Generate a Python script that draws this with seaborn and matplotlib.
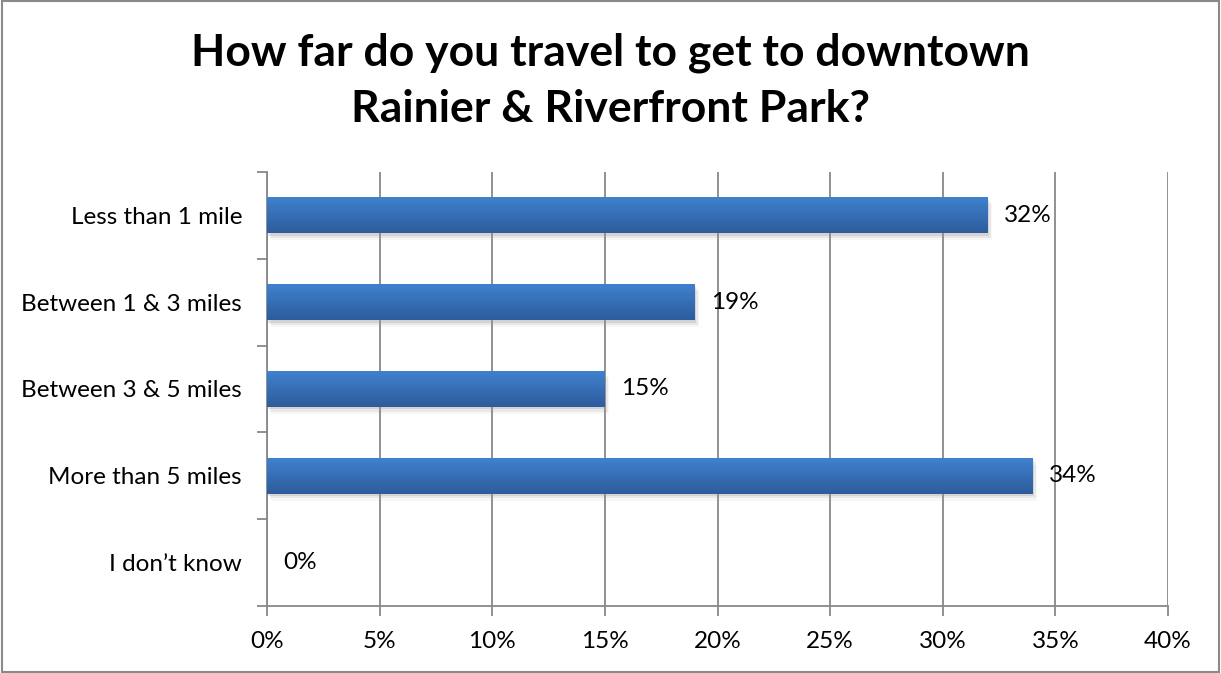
"""Horizontal bar chart: travel distance to downtown Rainier & Riverfront Park."""

import matplotlib

matplotlib.use("Agg")

import matplotlib.pyplot as plt
import numpy as np
import pandas as pd
import seaborn as sns
from matplotlib.patches import Rectangle

CATEGORIES = [
    "Less than 1 mile",
    "Between 1 & 3 miles",
    "Between 3 & 5 miles",
    "More than 5 miles",
    "I don\u2019t know",
]
PERCENTS = [32, 19, 15, 34, 0]
X_TICKS = [0, 5, 10, 15, 20, 25, 30, 35, 40]
TITLE = "How far do you travel to get to downtown\nRainier & Riverfront Park?"

GRID = "#888888"
BAR_TOP = "#4082CF"
BAR_BOTTOM = "#2D5C9C"

sns.set_theme(style="white")
plt.rcParams["font.family"] = ["Lato", "DejaVu Sans"]
plt.rcParams["text.color"] = "black"
plt.rcParams["xtick.labelcolor"] = "black"
plt.rcParams["ytick.labelcolor"] = "black"

df = pd.DataFrame({"category": CATEGORIES, "pct": PERCENTS})

fig = plt.figure(figsize=(12.21, 6.73), dpi=100)
ax = fig.add_axes([0.2187, 0.0996, 0.7379, 0.6448])

sns.barplot(df, x="pct", y="category", color=BAR_TOP, width=0.415,
            saturation=1, linewidth=0, ax=ax, zorder=3)

# vertical gradient inside each bar, like the Excel fill
grad = np.linspace(0, 1, 64).reshape(-1, 1)
cmap = matplotlib.colors.LinearSegmentedColormap.from_list("bar", [BAR_TOP, BAR_BOTTOM])
for patch in ax.patches[:]:
    x0, y0 = patch.get_x(), patch.get_y()
    w, h = patch.get_width(), patch.get_height()
    if w <= 0:
        continue
    for k, a in enumerate((0.25, 0.15, 0.08)):
        off = 0.06 * (k + 1)
        ax.add_patch(Rectangle((x0 + off, y0 + off * 0.45), w, h, color="#999999",
                               alpha=a, zorder=2, lw=0))
    im = ax.imshow(grad, cmap=cmap, extent=(x0, x0 + w, y0 + h, y0), aspect="auto",
                   zorder=3.5)
    im.set_clip_path(patch)

for i, v in enumerate(PERCENTS):
    ax.text(v + 0.7, i, f"{v}%", va="center", ha="left", fontsize=17.5, color="black",
            zorder=5)

ax.set_xlim(0, 40)
ax.set_ylim(len(CATEGORIES) - 0.5, -0.5)
ax.set_xticks(X_TICKS)
ax.set_xticklabels([f"{t}%" for t in X_TICKS], fontsize=17.5)
ax.set_yticks(range(len(CATEGORIES)))
ax.set_yticklabels(CATEGORIES, fontsize=17.5)
ax.set_xlabel("")
ax.set_ylabel("")

# gridlines and axis styling
ax.grid(axis="x", color=GRID, lw=1.3, zorder=0)
ax.set_axisbelow(True)
for side in ("top", "right"):
    ax.spines[side].set_visible(False)
for side in ("left", "bottom"):
    ax.spines[side].set_color(GRID)
    ax.spines[side].set_linewidth(1.3)

ax.tick_params(axis="x", which="major", direction="out", length=7, width=1.3,
               color=GRID, pad=11, bottom=True)
ax.tick_params(axis="y", which="major", length=0, pad=18)
ax.set_yticks(np.arange(-0.5, len(CATEGORIES), 1), minor=True)
ax.tick_params(axis="y", which="minor", direction="out", length=7, width=1.3,
               color=GRID, left=True)

fig.text(0.5, 0.88, TITLE, ha="center", va="center", fontsize=32, fontweight="bold",
         linespacing=1.5, color="black")

# chart area border
fig.patches.append(Rectangle((0.0015, 0.002), 0.997, 0.996, transform=fig.transFigure,
                             fill=False, edgecolor="#8a8a8a", lw=1.5))

fig.savefig("out.png", dpi=100)
